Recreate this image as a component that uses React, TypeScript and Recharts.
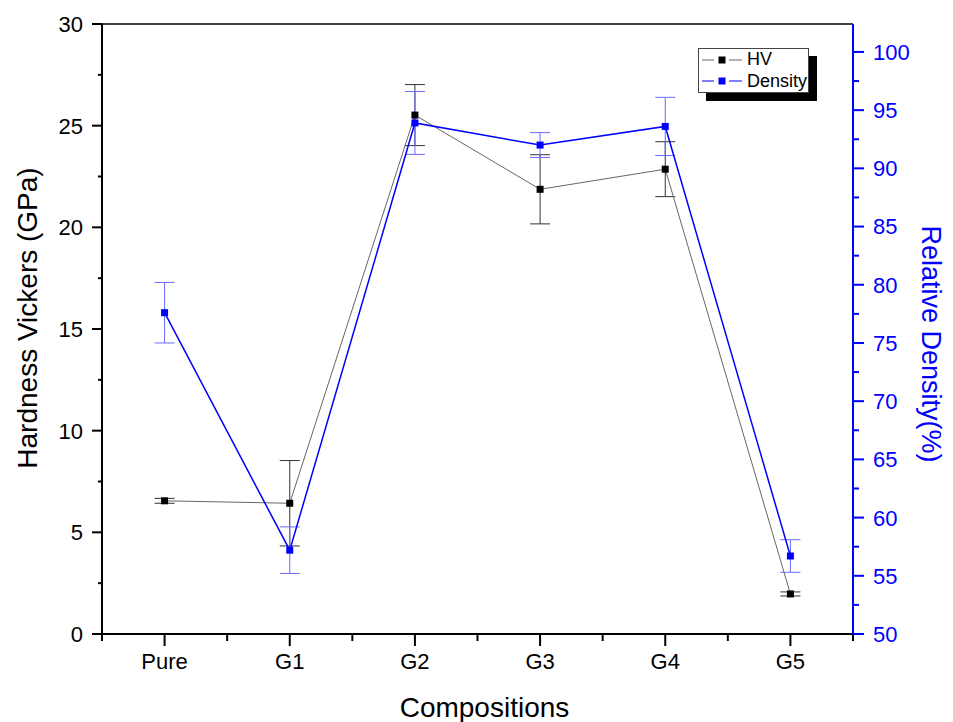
import React from 'react';
import {
  ComposedChart,
  Line,
  XAxis,
  YAxis,
  ErrorBar,
  Legend,
  ReferenceLine,
  Label,
} from 'recharts';

// values
const categories = ['Pure', 'G1', 'G2', 'G3', 'G4', 'G5'];
const hvValues = [6.55, 6.43, 25.52, 21.87, 22.86, 1.97];
const hvErrors = [0.12, 2.1, 1.5, 1.7, 1.35, 0.1];
const densityValues = [77.6, 57.2, 93.9, 92.0, 93.6, 56.7];
const densityErrors = [2.6, 2.0, 2.7, 1.07, 2.5, 1.4];

const hvTicks = [0, 2.5, 5, 7.5, 10, 12.5, 15, 17.5, 20, 22.5, 25, 27.5, 30];
const densityTicks = [50, 52.5, 55, 57.5, 60, 62.5, 65, 67.5, 70, 72.5, 75, 77.5, 80, 82.5, 85, 87.5, 90, 92.5, 95, 97.5, 100];

const FONT = '"Liberation Sans", Arial, Helvetica, sans-serif';
const BLUE = '#0000ff';

const chartData = categories.map((name, i) => ({
  name,
  hv: hvValues[i],
  hvErr: hvErrors[i],
  density: densityValues[i],
  densityErr: densityErrors[i],
}));

const seriesOrder = ['hv', 'density'];
const markerColor: Record<string, string> = { hv: '#000', density: BLUE };

function squareDot(color: string) {
  return (p: any) => {
    if (p.cx == null || p.cy == null) return <g key={p.index} />;
    return <rect key={p.index} x={p.cx - 3.5} y={p.cy - 3.5} width={7} height={7} fill={color} />;
  };
}

// tickSize/tickMargin are 0, so x/y is the axis position itself
function LeftTick(props: any) {
  const { x, y, payload } = props;
  const major = payload.value % 5 === 0;
  return (
    <g>
      <line x1={x - (major ? 10 : 4)} x2={x} y1={y} y2={y} stroke="#000" strokeWidth={2} />
      {major && (
        <text x={x - 19} y={y} dy="0.36em" textAnchor="end" fontSize={22} fontFamily={FONT} fill="#000">
          {payload.value}
        </text>
      )}
    </g>
  );
}

function RightTick(props: any) {
  const { x, y, payload } = props;
  const major = payload.value % 5 === 0;
  return (
    <g>
      <line x1={x} x2={x + (major ? 11 : 6)} y1={y} y2={y} stroke={BLUE} strokeWidth={2} />
      {major && (
        <text x={x + 20} y={y} dy="0.36em" textAnchor="start" fontSize={22} fontFamily={FONT} fill={BLUE}>
          {payload.value}
        </text>
      )}
    </g>
  );
}

function BottomTick(props: any) {
  const { x, y, payload, index, width, visibleTicksCount } = props;
  const half = width / visibleTicksCount / 2;
  const last = index === visibleTicksCount - 1;
  return (
    <g>
      <line x1={x} x2={x} y1={y} y2={y + 12} stroke="#000" strokeWidth={2} />
      <line x1={x - half} x2={x - half} y1={y} y2={y + 7} stroke="#000" strokeWidth={2} />
      {last && <line x1={x + half} x2={x + half} y1={y} y2={y + 7} stroke="#000" strokeWidth={2} />}
      <text x={x} y={y + 35} textAnchor="middle" fontSize={22} fontFamily={FONT} fill="#000">
        {payload.value}
      </text>
    </g>
  );
}

function LegendBox(props: any) {
  const items = [...(props.payload || [])].sort(
    (a: any, b: any) => seriesOrder.indexOf(a.dataKey) - seriesOrder.indexOf(b.dataKey)
  );
  return (
    <div
      style={{
        width: 111,
        boxSizing: 'border-box',
        border: '1px solid #444',
        background: '#fff',
        boxShadow: '8px 8px 0 #000',
        padding: '0 0 0 3px',
      }}
    >
      {items.map((item: any) => (
        <div
          key={item.value}
          style={{ display: 'flex', alignItems: 'center', height: 21.5, fontFamily: FONT, fontSize: 18, color: '#000' }}
        >
          <svg width={40} height={10} style={{ display: 'block' }}>
            <line x1={0} x2={12} y1={5} y2={5} stroke={item.color} strokeWidth={1} />
            <line x1={27} x2={40} y1={5} y2={5} stroke={item.color} strokeWidth={1} />
            <rect x={16.5} y={1.5} width={7} height={7} fill={markerColor[item.dataKey]} />
          </svg>
          <span style={{ marginLeft: 5, lineHeight: '21px' }}>{item.value}</span>
        </div>
      ))}
    </div>
  );
}

export default function App() {
  return (
    <div style={{ width: 945, height: 714, background: '#fff' }}>
      <ComposedChart
        width={945}
        height={714}
        data={chartData}
        margin={{ top: 16, right: 0, bottom: 0, left: 0 }}
      >
        <XAxis
          dataKey="name"
          type="category"
          scale="band"
          interval={0}
          height={88}
          tickSize={0}
          tickMargin={0}
          tickLine={false}
          axisLine={{ stroke: '#000', strokeWidth: 2 }}
          tick={<BottomTick />}
        >
          <Label
            value="Compositions"
            position="insideBottom"
            offset={5}
            dx={7}
            style={{ fontSize: 28, fontFamily: FONT, fill: '#000' }}
          />
        </XAxis>
        <YAxis
          yAxisId="hv"
          orientation="left"
          width={94}
          domain={[0, 30]}
          ticks={hvTicks}
          interval={0}
          allowDataOverflow
          tickSize={0}
          tickMargin={0}
          tickLine={false}
          axisLine={{ stroke: '#000', strokeWidth: 2 }}
          tick={<LeftTick />}
        >
          <Label
            value="Hardness Vickers (GPa)"
            angle={-90}
            position="center"
            dx={-28}
            dy={-11}
            style={{ fontSize: 28, fontFamily: FONT, fill: '#000', textAnchor: 'middle' }}
          />
        </YAxis>
        <YAxis
          yAxisId="density"
          orientation="right"
          width={100}
          domain={[50, 102.4]}
          ticks={densityTicks}
          interval={0}
          allowDataOverflow
          tickSize={0}
          tickMargin={0}
          tickLine={false}
          axisLine={{ stroke: BLUE, strokeWidth: 2 }}
          tick={<RightTick />}
        >
          <Label
            value="Relative Density(%)"
            angle={90}
            position="center"
            dx={29}
            dy={15}
            style={{ fontSize: 27, fontFamily: FONT, fill: BLUE, textAnchor: 'middle' }}
          />
        </YAxis>
        <ReferenceLine yAxisId="hv" y={30} stroke="#000" strokeWidth={1.5} ifOverflow="visible" />
        <Legend
          layout="vertical"
          align="center"
          verticalAlign="middle"
          content={<LegendBox />}
          wrapperStyle={{ left: 690, top: 40, width: 'auto', height: 'auto' }}
        />
        <Line
          yAxisId="hv"
          dataKey="hv"
          name="HV"
          type="linear"
          stroke="#666"
          strokeWidth={1}
          dot={squareDot('#000')}
          activeDot={false}
          isAnimationActive={false}
        >
          <ErrorBar dataKey="hvErr" width={10} stroke="#333" strokeWidth={1} direction="y" isAnimationActive={false} />
        </Line>
        <Line
          yAxisId="density"
          dataKey="density"
          name="Density"
          type="linear"
          stroke={BLUE}
          strokeWidth={1.5}
          dot={squareDot(BLUE)}
          activeDot={false}
          isAnimationActive={false}
        >
          <ErrorBar dataKey="densityErr" width={10} stroke="#6a6aff" strokeWidth={1} direction="y" isAnimationActive={false} />
        </Line>
      </ComposedChart>
    </div>
  );
}
